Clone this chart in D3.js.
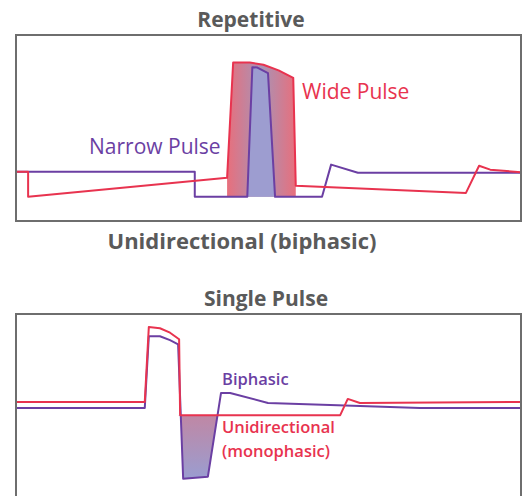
<!DOCTYPE html>
<html><head><meta charset="utf-8">
<script src="https://cdn.jsdelivr.net/npm/d3@7"></script>
<style>body{margin:0;background:#fff}svg{display:block}</style>
</head><body><svg id="c" width="525" height="496"></svg>
<script>
// ---- data (time 0..100, amplitude 0..100 within each panel) ----
const repWideX   = [0, 2.4, 2.4, 41.8, 43.0, 46.3, 49.0, 52.0, 54.9, 55.4, 89.1, 91.7, 93.9, 100];
const repWideY   = [26.5, 26.5, 13, 23.2, 85.2, 85.2, 84.0, 81.0, 77.0, 19.0, 15.1, 29.7, 27.6, 26.2];
const repNarrowX = [0, 35.4, 35.4, 45.8, 46.8, 47.8, 49.9, 51.3, 60.6, 62.4, 67.7, 100];
const repNarrowY = [26.5, 26.5, 13, 13, 82.7, 82.5, 79.5, 13, 13, 30.3, 25.9, 25.9];
const repBase = 13;             // low level of the narrow pulse trace
const repWideFill = [3, 9];     // index range of the wide pulse in repWide
const repNarrowFill = [3, 7];   // index range of the narrow pulse in repNarrow

const sglMonoX = [0, 25.5, 26.3, 28.5, 30.5, 32.3, 32.5, 64.2, 65.7, 68.1, 100];
const sglMonoY = [53, 53, 93, 92.4, 90, 86.5, 45.9, 45.9, 54.6, 52.4, 53];
const sglBiX   = [0, 25.5, 26.3, 28.5, 30.5, 32.1, 33.1, 38.0, 40.6, 42.4, 49.9, 62.2, 80, 100];
const sglBiY   = [49.7, 49.7, 88.1, 88.1, 86.0, 83.8, 11.9, 13.0, 57.8, 57.8, 52.4, 51.4, 49.7, 49.7];
const sglLow = 45.9;            // level of monophasic trace after the pulse
const sglFill = [5, 8];         // index range of biphasic negative lobe

const titles = ["Repetitive", "Single Pulse"];
const caption = "Unidirectional (biphasic)";

const RED = "#e8334f", PURPLE = "#6b3fa3", GRAY = "#5a5a5a";
const font = "'Open Sans', sans-serif";

const svg = d3.select("#c");
const defs = svg.append("defs");
const gH = defs.append("linearGradient").attr("id","gH").attr("x1","0").attr("x2","1").attr("y1","0").attr("y2","0");
gH.append("stop").attr("offset","0%").attr("stop-color","#e86f7c");
gH.append("stop").attr("offset","50%").attr("stop-color","#a893b6");
gH.append("stop").attr("offset","100%").attr("stop-color","#e86f7c");
const gV = defs.append("linearGradient").attr("id","gV").attr("x1","0").attr("x2","0").attr("y1","0").attr("y2","1");
gV.append("stop").attr("offset","0%").attr("stop-color","#ea6f74");
gV.append("stop").attr("offset","100%").attr("stop-color","#9a9dd0");

const zip = (xs, ys) => xs.map((x,i)=>({x, y: ys[i]}));

function panel(top, bottom) {
  const x = d3.scaleLinear().domain([0,100]).range([16, 521]);
  const y = d3.scaleLinear().domain([0,100]).range([bottom, top]);
  return {x, y};
}

// ---------- top panel ----------
const P1 = panel(35, 221);
const line1 = d3.line().x(d=>P1.x(d.x)).y(d=>P1.y(d.y));
const wide = zip(repWideX, repWideY), narrow = zip(repNarrowX, repNarrowY);
const area1 = d3.area().x(d=>P1.x(d.x)).y0(P1.y(repBase)).y1(d=>P1.y(d.y));
svg.append("path").datum(wide.slice(repWideFill[0], repWideFill[1]+1))
  .attr("d", area1).attr("fill","url(#gH)");
svg.append("path").datum(narrow.slice(repNarrowFill[0], repNarrowFill[1]+1))
  .attr("d", area1).attr("fill","#9d9dd0");
svg.append("path").datum(narrow).attr("d", line1).attr("fill","none")
  .attr("stroke", PURPLE).attr("stroke-width", 2).attr("stroke-linejoin","round");
svg.append("path").datum(wide).attr("d", line1).attr("fill","none")
  .attr("stroke", RED).attr("stroke-width", 2).attr("stroke-linejoin","round");
svg.append("rect").attr("x", P1.x(0)).attr("y", P1.y(100)).attr("width", P1.x(100)-P1.x(0))
  .attr("height", P1.y(0)-P1.y(100)).attr("fill","none").attr("stroke","#6e6e6e").attr("stroke-width",2);

svg.append("text").attr("x", 251).attr("y", 27).attr("text-anchor","middle")
  .attr("font-family", font).attr("font-weight", 700).attr("font-size", 21).attr("fill", GRAY).text(titles[0]);
svg.append("text").attr("x", 302).attr("y", 99).attr("font-family", font).attr("font-size", 21)
  .attr("fill", RED).text("Wide Pulse");
svg.append("text").attr("x", 89).attr("y", 154).attr("font-family", font).attr("font-size", 21)
  .attr("fill", PURPLE).text("Narrow Pulse");
svg.append("text").attr("x", 242).attr("y", 249).attr("text-anchor","middle")
  .attr("font-family", font).attr("font-weight", 700).attr("font-size", 22).attr("fill", GRAY).text(caption);

// ---------- bottom panel ----------
const P2 = panel(314, 501);
const line2 = d3.line().x(d=>P2.x(d.x)).y(d=>P2.y(d.y));
const mono = zip(sglMonoX, sglMonoY), bi = zip(sglBiX, sglBiY);
defs.append("clipPath").attr("id","below").append("rect")
  .attr("x", P2.x(0)).attr("y", P2.y(sglLow)).attr("width", P2.x(100)-P2.x(0)).attr("height", P2.y(0)-P2.y(sglLow));
const area2 = d3.area().x(d=>P2.x(d.x)).y0(P2.y(sglLow)).y1(d=>P2.y(d.y));
svg.append("path").datum(bi.slice(sglFill[0], sglFill[1]+1)).attr("d", area2)
  .attr("fill","url(#gV)").attr("clip-path","url(#below)");
svg.append("path").datum(bi).attr("d", line2).attr("fill","none")
  .attr("stroke", PURPLE).attr("stroke-width", 2).attr("stroke-linejoin","round");
svg.append("path").datum(mono).attr("d", line2).attr("fill","none")
  .attr("stroke", RED).attr("stroke-width", 2).attr("stroke-linejoin","round");
svg.append("rect").attr("x", P2.x(0)).attr("y", P2.y(100)).attr("width", P2.x(100)-P2.x(0))
  .attr("height", P2.y(0)-P2.y(100)).attr("fill","none").attr("stroke","#6e6e6e").attr("stroke-width",2);

svg.append("text").attr("x", 266).attr("y", 306).attr("text-anchor","middle")
  .attr("font-family", font).attr("font-weight", 700).attr("font-size", 21).attr("fill", GRAY).text(titles[1]);
svg.append("text").attr("x", 222).attr("y", 385).attr("font-family", font).attr("font-size", 16.5)
  .attr("font-weight", 600).attr("fill", PURPLE).text("Biphasic");
svg.append("text").attr("x", 222).attr("y", 433).attr("font-family", font).attr("font-size", 16.5)
  .attr("font-weight", 600).attr("fill", RED).text("Unidirectional");
svg.append("text").attr("x", 222).attr("y", 457).attr("font-family", font).attr("font-size", 16.5)
  .attr("font-weight", 600).attr("fill", RED).text("(monophasic)");
</script></body></html>
